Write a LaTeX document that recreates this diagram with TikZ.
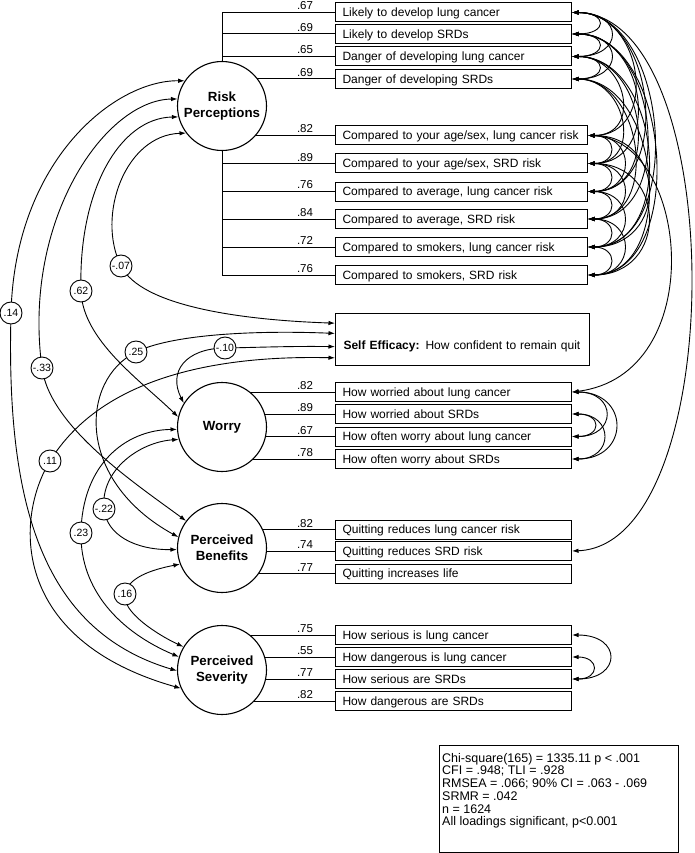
\documentclass[tikz,border=0pt]{standalone}
\usepackage{fontspec}
\setmainfont{Liberation Sans}
\usetikzlibrary{arrows.meta,backgrounds,calc}
\begin{document}
\begin{tikzpicture}[x=1pt,y=-1pt,
  lat/.style={circle,draw,line width=1.1pt,fill=white,minimum size=89pt,inner sep=0pt,align=center,font=\bfseries\fontsize{13.3}{16}\selectfont},
  ind/.style={draw,line width=1pt,fill=white,anchor=west,minimum height=19pt,inner xsep=7pt,inner ysep=0pt,text width=222pt,align=left,text height=11pt,text depth=2.5pt,font=\fontsize{12}{14}\selectfont},
  indw/.style={ind,text width=238pt},
  ld/.style={inner sep=0pt,anchor=base,font=\fontsize{11.5}{13}\selectfont},
  cl/.style={circle,draw,line width=0.9pt,fill=white,minimum size=22pt,inner sep=0pt,font=\fontsize{10.5}{12}\selectfont},
  ln/.style={line width=1pt},
  cor/.style={line width=0.9pt,{Latex[length=6.5pt,width=4.5pt]}-{Latex[length=6.5pt,width=4.5pt]}},
]
\useasboundingbox (0,0) rectangle (694,853);

% latent variables
\node[lat] (rp) at (222,106) {Risk\\Perceptions};
\node[lat] (wr) at (222,427) {Worry};
\node[lat] (pb) at (222,548) {Perceived\\Benefits};
\node[lat] (ps) at (222,670) {Perceived\\Severity};

% indicators
\node[ind] (r1) at (335,12.5) {Likely to develop lung cancer};
\node[ind] (r2) at (335,34) {Likely to develop SRDs};
\node[ind] (r3) at (335,56.5) {Danger of developing lung cancer};
\node[ind] (r4) at (335,79) {Danger of developing SRDs};
\node[indw] (r5) at (335,135.5) {Compared to your age/sex, lung cancer risk};
\node[indw] (r6) at (335,163.5) {Compared to your age/sex, SRD risk};
\node[indw] (r7) at (335,191.5) {Compared to average, lung cancer risk};
\node[indw] (r8) at (335,219) {Compared to average, SRD risk};
\node[indw] (r9) at (335,247) {Compared to smokers, lung cancer risk};
\node[indw] (r10) at (335,275) {Compared to smokers, SRD risk};
\node[ind] (w1) at (335,392) {How worried about lung cancer};
\node[ind] (w2) at (335,414) {How worried about SRDs};
\node[ind] (w3) at (335,436.5) {How often worry about lung cancer};
\node[ind] (w4) at (335,459) {How often worry about SRDs};
\node[ind] (b1) at (335,529.5) {Quitting reduces lung cancer risk};
\node[ind] (b2) at (335,551) {Quitting reduces SRD risk};
\node[ind] (b3) at (335,573.5) {Quitting increases life};
\node[ind] (s1) at (335,635) {How serious is lung cancer};
\node[ind] (s2) at (335,657) {How dangerous is lung cancer};
\node[ind] (s3) at (335,679) {How serious are SRDs};
\node[ind] (s4) at (335,701) {How dangerous are SRDs};

% self efficacy
\node[draw,line width=1pt,fill=white,anchor=north west,minimum height=52pt,inner xsep=8pt,inner ysep=0pt,text width=238pt,align=left,text height=22pt,text depth=2pt,font=\fontsize{12}{14}\selectfont] (se) at (335,313) {\textbf{Self Efficacy:} How confident to remain quit};
\coordinate (se1) at ($(se.north west)!0.192!(se.south west)$);
\coordinate (se2) at ($(se.north west)!0.385!(se.south west)$);
\coordinate (se3) at ($(se.north west)!0.635!(se.south west)$);
\coordinate (se4) at ($(se.north west)!0.846!(se.south west)$);

% loadings
\foreach \i/\v in {1/.67,2/.69,3/.65,4/.69,5/.82,6/.89,7/.76,8/.84,9/.72,10/.76}
  \node[ld] (lr\i) at ($(r\i.west)+(-30,-2.5)$) {\v};
\foreach \i/\v in {1/.82,2/.89,3/.67,4/.78}
  \node[ld] (lw\i) at ($(w\i.west)+(-30,-2.5)$) {\v};
\foreach \i/\v in {1/.82,2/.74,3/.77}
  \node[ld] (lb\i) at ($(b\i.west)+(-30,-2.5)$) {\v};
\foreach \i/\v in {1/.75,2/.55,3/.77,4/.82}
  \node[ld] (ls\i) at ($(s\i.west)+(-30,-2.5)$) {\v};

% correlation labels
\node[cl] (c14) at (11,313) {.14};
\node[cl] (c33) at (42,368) {-.33};
\node[cl] (c62) at (81,291) {.62};
\node[cl] (c07) at (121,266) {-.07};
\node[cl] (c25) at (136,352) {.25};
\node[cl] (c10) at (225,348) {-.10};
\node[cl] (c11) at (50,461) {.11};
\node[cl] (c22) at (104,509) {-.22};
\node[cl] (c23) at (81,533) {.23};
\node[cl] (c16) at (125,594) {.16};

% fit box
\node[draw,line width=1pt,anchor=north west,minimum width=239pt,minimum height=107pt,inner sep=0pt] (fitbox) at (439,745) {};
\node[anchor=north west,inner sep=0pt,align=left,font=\fontsize{12.5}{12.7}\selectfont] (fittext) at (442,753) {Chi-square(165) = 1335.11 p < .001\\CFI = .948; TLI = .928\\RMSEA = .066; 90\% CI = .063 - .069\\SRMR = .042\\n = 1624\\All loadings significant, p<0.001};

\begin{pgfonlayer}{background}
% loading lines
\draw[ln] (rp.center |- r1.west) -- (rp.center |- r10.west);
\foreach \i in {1,...,10} \draw[ln] (rp.center |- r\i.west) -- (r\i.west);
\foreach \i in {1,...,4} \draw[ln] (wr.center |- w\i.west) -- (w\i.west);
\foreach \i in {1,...,3} \draw[ln] (pb.center |- b\i.west) -- (b\i.west);
\foreach \i in {1,...,4} \draw[ln] (ps.center |- s\i.west) -- (s\i.west);

% latent correlations
\draw[cor] (rp.146) .. controls (115,80) and (15,160) .. (c14.center) .. controls (6,500) and (40,630) .. (ps.181);
\draw[cor] (rp.171) .. controls (105,100) and (22,220) .. (c33.center) .. controls (50,427) and (136,484) .. (pb.143);
\draw[cor] (rp.194) .. controls (120,118) and (78,190) .. (c62.center) .. controls (82.5,340) and (140,380) .. (wr.167);
\draw[cor] (rp.217) .. controls (125,135) and (96,216) .. (c07.center) .. controls (141,306) and (240,320) .. (se1);
\draw[cor] (se2) .. controls (250,330) and (170,335) .. (c25.center) .. controls (80,380) and (75,480) .. (pb.166);
\draw[cor] (se3) .. controls (290,346) and (255,347.5) .. (c10.center) .. controls (185,348.5) and (168,372) .. (wr.148);
\draw[cor] (se4) .. controls (210,355) and (100,380) .. (c11.center) .. controls (15,518) and (10,640) .. (ps.204);
\draw[cor] (wr.183) .. controls (125,430) and (82,465) .. (c23.center) .. controls (80,590) and (120,632) .. (ps.163);
\draw[cor] (wr.196) .. controls (140,442) and (100,470) .. (c22.center) .. controls (106.7,535) and (135,550) .. (pb.182);
\draw[cor] (pb.201) .. controls (150,570) and (128,578) .. (c16.center) .. controls (121.6,612) and (158,635) .. (ps.149);

% correlated errors
\foreach \a/\b/\c in {r1/r2/36,r2/r3/36,r3/r4/36,r1/r3/52,r2/r4/52,
  r5/r6/30,r6/r7/30,r7/r8/30,r8/r9/30,r9/r10/30,
  r5/r7/48,r6/r8/48,r7/r9/48,r8/r10/48,r5/r9/80,r6/r10/80,
  r4/r6/55,r4/r8/72,r4/r10/90,r3/r5/55,r3/r7/75,r3/r9/90,
  r2/r6/75,r2/r8/88,r2/r10/100,r1/r5/72,r1/r7/85,r1/r9/98,
  w1/w3/45,w1/w4/58,w2/w3/30,w2/w4/42,s1/s3/50,s2/s3/28}
  \draw[cor] (\a.east) .. controls +(\c,0) and +(\c,0) .. (\b.east);
\draw[cor] (r1.east) .. controls (730,15) and (730,545) .. (b2.east);
\draw[cor] (r5.east) .. controls (690,140) and (710,375) .. (w1.east);
\end{pgfonlayer}
\end{tikzpicture}
\end{document}
